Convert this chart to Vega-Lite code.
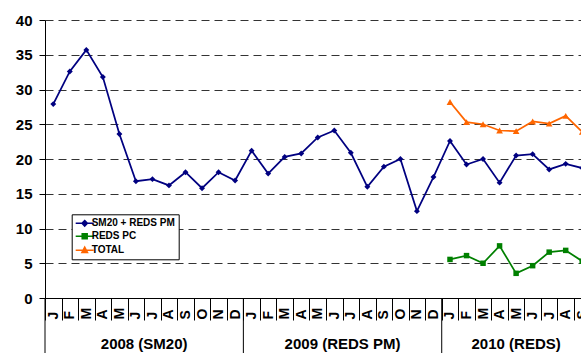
{
  "$schema": "https://vega.github.io/schema/vega-lite/v6.json",
  "width": 536,
  "height": 278,
  "autosize": {"type": "none"},
  "padding": {"left": 45, "top": 20, "right": 0, "bottom": 55},
  "background": "white",
  "config": {"view": {"stroke": null}, "font": "Liberation Sans"},
  "datasets": {
    "series": [
      {"p": "2008-01", "s": "SM20 + REDS PM", "v": 27.9},
      {"p": "2008-02", "s": "SM20 + REDS PM", "v": 32.6},
      {"p": "2008-03", "s": "SM20 + REDS PM", "v": 35.7},
      {"p": "2008-04", "s": "SM20 + REDS PM", "v": 31.8},
      {"p": "2008-05", "s": "SM20 + REDS PM", "v": 23.6},
      {"p": "2008-06", "s": "SM20 + REDS PM", "v": 16.8},
      {"p": "2008-07", "s": "SM20 + REDS PM", "v": 17.1},
      {"p": "2008-08", "s": "SM20 + REDS PM", "v": 16.2},
      {"p": "2008-09", "s": "SM20 + REDS PM", "v": 18.1},
      {"p": "2008-10", "s": "SM20 + REDS PM", "v": 15.8},
      {"p": "2008-11", "s": "SM20 + REDS PM", "v": 18.1},
      {"p": "2008-12", "s": "SM20 + REDS PM", "v": 16.9},
      {"p": "2009-01", "s": "SM20 + REDS PM", "v": 21.2},
      {"p": "2009-02", "s": "SM20 + REDS PM", "v": 17.9},
      {"p": "2009-03", "s": "SM20 + REDS PM", "v": 20.3},
      {"p": "2009-04", "s": "SM20 + REDS PM", "v": 20.8},
      {"p": "2009-05", "s": "SM20 + REDS PM", "v": 23.1},
      {"p": "2009-06", "s": "SM20 + REDS PM", "v": 24.1},
      {"p": "2009-07", "s": "SM20 + REDS PM", "v": 20.9},
      {"p": "2009-08", "s": "SM20 + REDS PM", "v": 16.0},
      {"p": "2009-09", "s": "SM20 + REDS PM", "v": 18.9},
      {"p": "2009-10", "s": "SM20 + REDS PM", "v": 20.0},
      {"p": "2009-11", "s": "SM20 + REDS PM", "v": 12.5},
      {"p": "2009-12", "s": "SM20 + REDS PM", "v": 17.4},
      {"p": "2010-01", "s": "SM20 + REDS PM", "v": 22.6},
      {"p": "2010-02", "s": "SM20 + REDS PM", "v": 19.2},
      {"p": "2010-03", "s": "SM20 + REDS PM", "v": 20.0},
      {"p": "2010-04", "s": "SM20 + REDS PM", "v": 16.6},
      {"p": "2010-05", "s": "SM20 + REDS PM", "v": 20.5},
      {"p": "2010-06", "s": "SM20 + REDS PM", "v": 20.7},
      {"p": "2010-07", "s": "SM20 + REDS PM", "v": 18.5},
      {"p": "2010-08", "s": "SM20 + REDS PM", "v": 19.3},
      {"p": "2010-09", "s": "SM20 + REDS PM", "v": 18.7},
      {"p": "2010-01", "s": "REDS PC", "v": 5.55},
      {"p": "2010-02", "s": "REDS PC", "v": 6.1},
      {"p": "2010-03", "s": "REDS PC", "v": 5.0},
      {"p": "2010-04", "s": "REDS PC", "v": 7.5},
      {"p": "2010-05", "s": "REDS PC", "v": 3.55},
      {"p": "2010-06", "s": "REDS PC", "v": 4.65},
      {"p": "2010-07", "s": "REDS PC", "v": 6.6},
      {"p": "2010-08", "s": "REDS PC", "v": 6.85},
      {"p": "2010-09", "s": "REDS PC", "v": 5.3},
      {"p": "2010-01", "s": "TOTAL", "v": 28.2},
      {"p": "2010-02", "s": "TOTAL", "v": 25.3},
      {"p": "2010-03", "s": "TOTAL", "v": 25.0},
      {"p": "2010-04", "s": "TOTAL", "v": 24.1},
      {"p": "2010-05", "s": "TOTAL", "v": 24.0},
      {"p": "2010-06", "s": "TOTAL", "v": 25.4},
      {"p": "2010-07", "s": "TOTAL", "v": 25.1},
      {"p": "2010-08", "s": "TOTAL", "v": 26.2},
      {"p": "2010-09", "s": "TOTAL", "v": 23.9}
    ],
    "bounds": [{"k": 0}, {"k": 12}, {"k": 24}, {"k": 33}],
    "groups": [
      {"label": "2008 (SM20)", "mid": 6},
      {"label": "2009 (REDS PM)", "mid": 18},
      {"label": "2010 (REDS)", "mid": 28.5}
    ]
  },
  "resolve": {"scale": {"x": "independent"}},
  "layer": [
    {
      "data": {"name": "series"},
      "encoding": {
        "x": {
          "field": "p", "type": "ordinal", "sort": null, "bandPosition": 0.5,
          "scale": {"type": "band", "paddingInner": 0, "paddingOuter": 0, "range": [0, 545.5]},
          "axis": {
            "title": null,
            "labelExpr": "['J','F','M','A','M','J','J','A','S','O','N','D'][toNumber(substring(datum.value,5,7))-1]",
            "labelAngle": 270, "labelAlign": "left", "labelBaseline": "middle",
            "labelFont": "Liberation Sans", "labelFontWeight": "bold", "labelFontSize": 14, "labelColor": "black",
            "labelPadding": -1, "tickBand": "extent", "tickSize": 22, "tickColor": "black",
            "domainColor": "black", "grid": false, "labelOverlap": false, "labelBound": false
          }
        },
        "y": {
          "field": "v", "type": "quantitative",
          "scale": {"domain": [0, 40], "nice": false},
          "axis": {
            "title": null, "values": [0, 5, 10, 15, 20, 25, 30, 35, 40], "tickCount": 12, "labelOverlap": false,
            "labelFont": "Liberation Sans", "labelFontWeight": "bold", "labelFontSize": 15, "labelColor": "black",
            "tickSize": 6, "tickColor": "black", "domainColor": "black", "labelPadding": 7,
            "grid": true, "gridDash": [8, 5], "gridColor": "#333333", "gridWidth": 1
          }
        },
        "color": {
          "field": "s", "type": "nominal",
          "scale": {"domain": ["SM20 + REDS PM", "REDS PC", "TOTAL"], "range": ["#000080", "#008000", "#FF6600"]},
          "legend": {
            "title": null, "orient": "none", "legendX": 26.7, "legendY": 194.3, "direction": "vertical",
            "fillColor": "white", "strokeColor": "black", "padding": 3,
            "labelFont": "Liberation Sans", "labelFontWeight": "bold", "labelFontSize": 10, "labelColor": "black",
            "symbolSize": 100, "symbolStrokeWidth": 1.5, "rowPadding": 1, "labelOffset": 5, "labelLimit": 200
          }
        }
      },
      "layer": [
        {
          "transform": [{"filter": "false"}],
          "mark": {"type": "point", "filled": false, "opacity": 1, "strokeWidth": 1.5},
          "encoding": {
            "shape": {
              "field": "s", "type": "nominal",
              "scale": {
                "domain": ["SM20 + REDS PM", "REDS PC", "TOTAL"],
                "range": [
                  "M-1,0H2.6M0.8,-0.56L1.34,0L0.8,0.56L0.26,0ZM0.8,-0.26L1.06,0L0.8,0.26L0.54,0Z",
                  "M-1,0H2.6M0.3,-0.5H1.3V0.5H0.3ZM0.55,-0.25H1.05V0.25H0.55Z",
                  "M-1,0H2.6M0.8,-0.62L1.36,0.44H0.24ZM0.8,-0.3L1.06,0.22H0.54Z"
                ]
              },
              "legend": {
                "title": null, "orient": "none", "legendX": 26.7, "legendY": 194.3, "direction": "vertical",
                "fillColor": "white", "strokeColor": "black", "padding": 3,
                "labelFont": "Liberation Sans", "labelFontWeight": "bold", "labelFontSize": 10, "labelColor": "black",
                "symbolSize": 100, "symbolStrokeWidth": 1.5, "rowPadding": 1, "labelOffset": 5, "labelLimit": 200
              }
            }
          }
        },
        {"mark": {"type": "line", "strokeWidth": 1.75, "clip": false}},
        {
          "transform": [{"filter": "datum.s === 'SM20 + REDS PM'"}],
          "mark": {"type": "point", "shape": "diamond", "size": 35, "filled": true, "opacity": 1, "clip": false}
        },
        {
          "transform": [{"filter": "datum.s === 'REDS PC'"}],
          "mark": {"type": "point", "shape": "square", "size": 30, "filled": true, "opacity": 1, "clip": false}
        },
        {
          "transform": [{"filter": "datum.s === 'TOTAL'"}],
          "mark": {"type": "point", "shape": "triangle-up", "size": 45, "filled": true, "opacity": 1, "clip": false}
        }
      ]
    },
    {
      "layer": [
        {
          "data": {"name": "bounds"},
          "mark": {"type": "rule", "color": "black", "strokeWidth": 1, "clip": false},
          "encoding": {
            "x": {"field": "k", "type": "quantitative", "scale": {"domain": [0, 33], "range": [0, 545.5], "nice": false, "zero": false}, "axis": null},
            "y": {"datum": 0, "type": "quantitative",
              "axis": {
                "title": null, "values": [0, 5, 10, 15, 20, 25, 30, 35, 40], "tickCount": 12, "labelOverlap": false,
                "labelFont": "Liberation Sans", "labelFontWeight": "bold", "labelFontSize": 15, "labelColor": "black",
                "tickSize": 6, "tickColor": "black", "domainColor": "black", "labelPadding": 7,
                "grid": true, "gridDash": [8, 5], "gridColor": "#333333", "gridWidth": 1
              }},
            "y2": {"datum": -8.2}
          }
        },
        {
          "data": {"name": "groups"},
          "mark": {"type": "text", "font": "Liberation Sans", "fontWeight": "bold", "fontSize": 15, "color": "black", "align": "center", "baseline": "alphabetic", "clip": false},
          "encoding": {
            "x": {"field": "mid", "type": "quantitative", "scale": {"domain": [0, 33], "range": [0, 545.5], "nice": false, "zero": false}, "axis": null},
            "y": {"datum": -7.3, "type": "quantitative",
              "axis": {
                "title": null, "values": [0, 5, 10, 15, 20, 25, 30, 35, 40], "tickCount": 12, "labelOverlap": false,
                "labelFont": "Liberation Sans", "labelFontWeight": "bold", "labelFontSize": 15, "labelColor": "black",
                "tickSize": 6, "tickColor": "black", "domainColor": "black", "labelPadding": 7,
                "grid": true, "gridDash": [8, 5], "gridColor": "#333333", "gridWidth": 1
              }},
            "text": {"field": "label"}
          }
        }
      ]
    }
  ]
}
